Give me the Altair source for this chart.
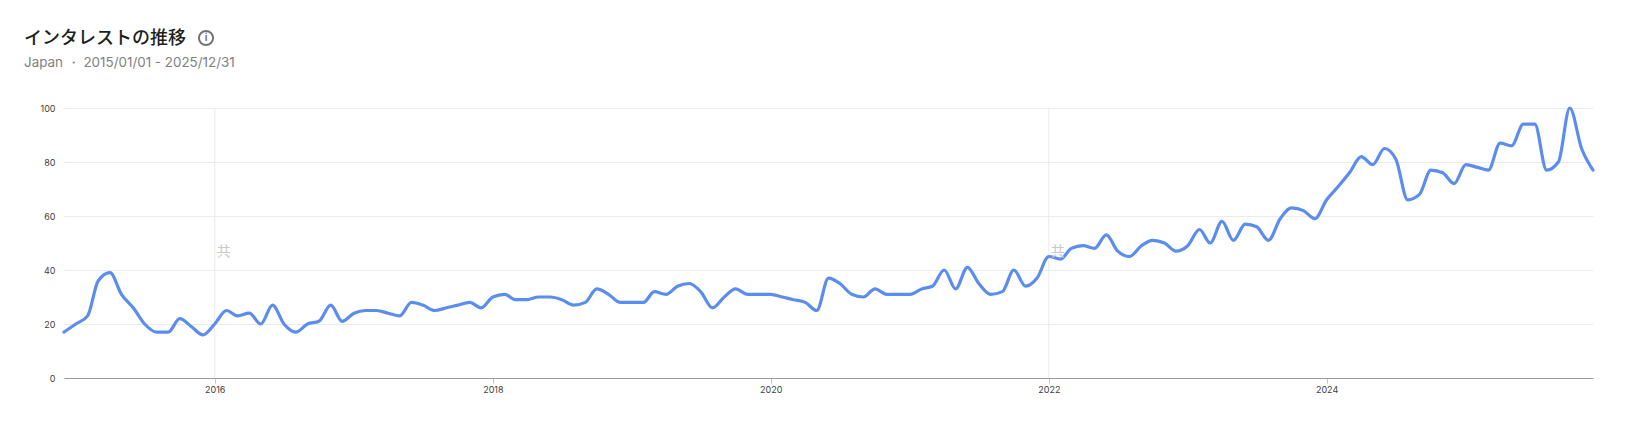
import altair as alt
import pandas as pd

values = [17, 20, 23, 36, 39, 31, 26, 20, 17, 17, 22, 19, 16,
          20, 25, 23, 24, 20, 27, 20, 17, 20, 21, 27, 21, 24, 25, 25, 24, 23,
          28, 27, 25, 26, 27, 28, 26, 30, 31, 29, 29, 30, 30, 29, 27, 28, 33, 31,
          28, 28, 28, 32, 31, 34, 35, 32, 26, 30, 33, 31, 31, 31, 30, 29,
          28, 25, 37, 35, 31, 30, 33, 31, 31, 31, 33, 34, 40, 33, 41, 35, 31, 32,
          40, 34, 37, 45, 44, 48, 49, 48, 53, 47, 45, 49, 51, 50, 47, 49, 55, 50,
          58, 51, 57, 56, 51, 59, 63, 62, 59, 66, 71, 76, 82, 79, 85, 81, 66, 68,
          77, 76, 72, 79, 78, 77, 87, 86, 94, 94, 77, 80, 100, 85, 77]
dates = pd.date_range("2014-12-01", periods=len(values), freq="MS")
year_ticks = ["2016-01-01", "2018-01-01", "2020-01-01", "2022-01-01", "2024-01-01"]
annot_dates = ["2016-01-01", "2022-01-01"]
annot_labels = ["共", "共"]
y_ticks = [0, 20, 40, 60, 80, 100]

W, H = 1529, 270
FONT = "Inter"
JP = "Noto Sans CJK JP"

df = pd.DataFrame({"date": dates, "value": values})
xscale = alt.Scale(domain=["2014-12-01", "2025-12-01"], nice=False)
yscale = alt.Scale(domain=[0, 100], nice=False)

x_axis = alt.Axis(
    values=year_ticks, format="%Y", labelFont=FONT, labelFontSize=9, labelColor="#3c4043",
    labelPadding=2, tickSize=5, tickColor="#c4c4c4", domainColor="#9a9a9a", domainWidth=1,
    grid=False, title=None, labelOverlap=False,
)
y_axis = alt.Axis(
    values=y_ticks, labelFont=FONT, labelFontSize=9, labelColor="#3c4043", labelPadding=9,
    tickSize=0, domain=False, gridColor="#ebebeb", gridWidth=1, title=None,
)

grid = alt.Chart(pd.DataFrame({"date": pd.to_datetime(annot_dates), "t": annot_labels}))
vrules = grid.mark_rule(color="#ebebeb", strokeWidth=1).encode(
    x=alt.X("date:T", scale=xscale, axis=x_axis), y=alt.value(0), y2=alt.value(H)
)
base = alt.Chart(df).mark_line(
    color="#5b8def", strokeWidth=3.2, interpolate="monotone", strokeCap="round", strokeJoin="round"
).encode(
    x=alt.X("date:T", scale=xscale, axis=x_axis),
    y=alt.Y("value:Q", scale=yscale, axis=y_axis),
)
notes = grid.mark_text(
    font=JP, fontSize=14, color="#c9c9c9", align="left", baseline="middle", dx=2
).encode(
    x=alt.X("date:T", scale=xscale, axis=x_axis), y=alt.value(144), text="t:N"
)

title = alt.Chart(pd.DataFrame({"t": ["インタレストの推移"]})).mark_text(
    font=JP, fontSize=18, fontWeight=500, color="#1f1f1f", align="left", baseline="middle"
).encode(x=alt.value(-40), y=alt.value(-69), text="t:N")
sub = alt.Chart(pd.DataFrame({"t": ["Japan ・ 2015/01/01 - 2025/12/31"]})).mark_text(
    font=FONT, fontSize=13.4, color="#808080", align="left", baseline="middle"
).encode(x=alt.value(-40), y=alt.value(-45), text="t:N")
icon = alt.Chart(pd.DataFrame({"t": ["i"]})).mark_point(
    shape="circle", size=200, color="#757575", strokeWidth=2, filled=False, opacity=1
).encode(x=alt.value(142), y=alt.value(-70))
icon_t = alt.Chart(pd.DataFrame({"t": ["i"]})).mark_text(
    font=FONT, fontSize=10, fontWeight=700, color="#757575", align="center", baseline="middle"
).encode(x=alt.value(142), y=alt.value(-70), text="t:N")

chart = (
    alt.layer(vrules, base, notes, title, sub, icon, icon_t)
    .properties(
        width=W, height=H, background="white",
        autosize=alt.AutoSizeParams(type="none"),
        padding={"left": 56, "top": 100, "right": 31, "bottom": 35},
    )
    .configure_view(stroke=None)
)
chart.save("out.html", embed_options={"renderer": "svg", "actions": False})
